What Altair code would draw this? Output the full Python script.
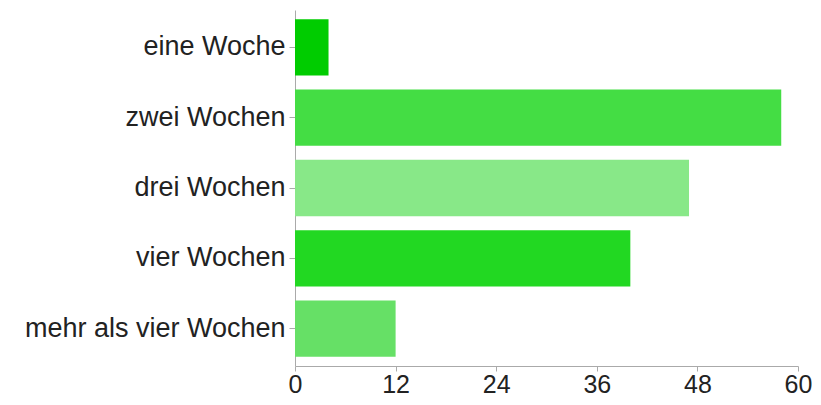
import altair as alt
import pandas as pd

categories = ["eine Woche", "zwei Wochen", "drei Wochen", "vier Wochen", "mehr als vier Wochen"]
values = [4, 58, 47, 40, 12]
colors = ["#00cc00", "#44dd44", "#88e888", "#22d822", "#66e066"]
x_ticks = [0, 12, 24, 36, 48, 60]

df = pd.DataFrame({"Dauer": categories, "Anzahl": values})

chart = alt.Chart(df).mark_bar().encode(
    y=alt.Y("Dauer:N", sort=categories, title=None,
            scale=alt.Scale(paddingInner=0.2, paddingOuter=0.13),
            axis=alt.Axis(labelFontSize=27, labelFont="Liberation Sans", labelColor="#222222",
                          domainColor="#aaaaaa", tickColor="#aaaaaa", tickSize=6,
                          labelPadding=4, labelLimit=400, grid=False)),
    x=alt.X("Anzahl:Q", title=None,
            scale=alt.Scale(domain=[0, 60], nice=False),
            axis=alt.Axis(values=x_ticks, labelFontSize=25, labelFont="Liberation Sans",
                          labelColor="#222222", domainColor="#aaaaaa", tickColor="#aaaaaa",
                          tickSize=5, labelPadding=1, labelFlush=False, grid=False)),
    color=alt.Color("Dauer:N", scale=alt.Scale(domain=categories, range=colors), legend=None),
).properties(
    width=503, height=356,
    autosize=alt.AutoSizeParams(type="none"),
    padding={"left": 287, "top": 2, "right": 14, "bottom": 31},
).configure_view(stroke=None)

chart.save("out.html", embed_options={"renderer": "svg", "actions": False})
